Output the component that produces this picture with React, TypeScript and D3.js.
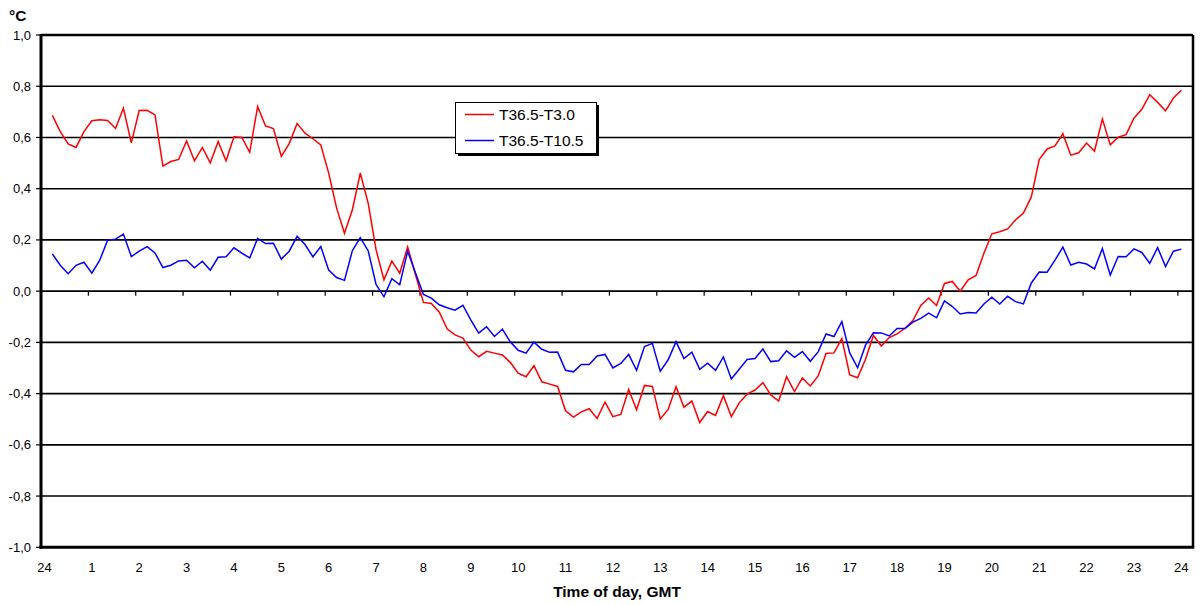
import React from 'react';
import * as d3 from 'd3';

const hourLabels = ['24','1','2','3','4','5','6','7','8','9','10','11','12','13','14','15','16','17','18','19','20','21','22','23','24'];
const yTickValues = [-1, -0.8, -0.6, -0.4, -0.2, 0, 0.2, 0.4, 0.6, 0.8, 1];
const seriesNames = ['T36.5-T3.0', 'T36.5-T10.5'];
const seriesColors = ['#ff0000', '#0000ff'];

// 10-minute samples (hours of day, GMT)
const firstSampleHour = 0.24;
const sampleStepHours = 1 / 6;

const redValues = [
  0.686, 0.623, 0.575, 0.561, 0.623, 0.665, 0.669, 0.666, 0.635, 0.714,
  0.579, 0.705, 0.706, 0.688, 0.488, 0.506, 0.514, 0.586, 0.509, 0.561,
  0.501, 0.584, 0.509, 0.603, 0.600, 0.542, 0.721, 0.645, 0.635, 0.526,
  0.576, 0.655, 0.617, 0.595, 0.571, 0.461, 0.325, 0.226, 0.318, 0.461,
  0.344, 0.162, 0.044, 0.117, 0.070, 0.173, 0.064, -0.044, -0.048, -0.081,
  -0.147, -0.171, -0.183, -0.230, -0.256, -0.235, -0.242, -0.249, -0.278, -0.320,
  -0.334, -0.291, -0.354, -0.363, -0.372, -0.467, -0.492, -0.471, -0.459, -0.497,
  -0.433, -0.490, -0.481, -0.384, -0.463, -0.368, -0.372, -0.499, -0.462, -0.373,
  -0.453, -0.429, -0.513, -0.470, -0.485, -0.408, -0.490, -0.436, -0.402, -0.386,
  -0.357, -0.405, -0.429, -0.334, -0.392, -0.339, -0.370, -0.331, -0.243, -0.241,
  -0.185, -0.327, -0.338, -0.266, -0.173, -0.214, -0.181, -0.167, -0.145, -0.115,
  -0.056, -0.027, -0.056, 0.030, 0.038, 0.000, 0.044, 0.061, 0.148, 0.224,
  0.232, 0.243, 0.278, 0.305, 0.368, 0.514, 0.555, 0.567, 0.615, 0.531,
  0.540, 0.578, 0.546, 0.672, 0.571, 0.601, 0.611, 0.675, 0.710, 0.767,
  0.737, 0.704, 0.754, 0.784,
];

const blueValues = [
  0.145, 0.101, 0.068, 0.101, 0.113, 0.070, 0.121, 0.199, 0.203, 0.223,
  0.135, 0.156, 0.174, 0.149, 0.092, 0.101, 0.118, 0.121, 0.091, 0.117,
  0.082, 0.132, 0.134, 0.169, 0.148, 0.130, 0.206, 0.186, 0.187, 0.125,
  0.156, 0.214, 0.182, 0.134, 0.174, 0.082, 0.053, 0.042, 0.158, 0.209,
  0.158, 0.026, -0.022, 0.049, 0.025, 0.156, 0.071, -0.013, -0.027, -0.053,
  -0.065, -0.074, -0.055, -0.112, -0.164, -0.139, -0.177, -0.148, -0.198, -0.231,
  -0.242, -0.199, -0.227, -0.239, -0.238, -0.309, -0.315, -0.286, -0.286, -0.253,
  -0.247, -0.300, -0.282, -0.247, -0.309, -0.216, -0.204, -0.313, -0.268, -0.197,
  -0.263, -0.238, -0.305, -0.281, -0.309, -0.257, -0.343, -0.305, -0.267, -0.263,
  -0.226, -0.275, -0.272, -0.233, -0.258, -0.236, -0.274, -0.237, -0.167, -0.177,
  -0.119, -0.241, -0.299, -0.211, -0.162, -0.163, -0.175, -0.146, -0.146, -0.121,
  -0.106, -0.086, -0.104, -0.038, -0.060, -0.089, -0.083, -0.085, -0.050, -0.024,
  -0.050, -0.020, -0.041, -0.050, 0.032, 0.075, 0.074, 0.121, 0.172, 0.102,
  0.113, 0.106, 0.087, 0.166, 0.063, 0.135, 0.134, 0.165, 0.151, 0.109,
  0.170, 0.096, 0.156, 0.164,
];

const seriesValues = [redValues, blueValues];

const W = 1201;
const H = 605;
const FONT = 'Arial, "Liberation Sans", Helvetica, sans-serif';

function fmt(v: number) {
  const s = Math.abs(v).toFixed(1).replace('.', ',');
  return (v < -1e-9 ? '-' : '') + s;
}

export default function App() {
  const left = 41, right = 1193, top = 35, bottom = 547.3;
  const x = d3.scaleLinear().domain([0, 24.32]).range([left, right]);
  const y = d3.scaleLinear().domain([-1, 1]).range([bottom, top]);

  const line = d3
    .line<number>()
    .x((_, i) => x(firstSampleHour + i * sampleStepHours))
    .y((d) => y(d));

  const y0 = y(0);

  return (
    <svg
      width={W}
      height={H}
      style={{ position: 'absolute', left: 0, top: 0, display: 'block', background: '#fff' }}
      fontFamily={FONT}
    >
      <rect x={0} y={0} width={W} height={H} fill="#fff" />
      {yTickValues.map((v) => (
        <line key={'g' + v} x1={left} x2={right} y1={y(v)} y2={y(v)} stroke="#000" strokeWidth={1.6} />
      ))}
      {yTickValues.map((v) => (
        <line key={'yt' + v} x1={left - 5} x2={left} y1={y(v)} y2={y(v)} stroke="#000" strokeWidth={1.2} />
      ))}
      {yTickValues.map((v) => (
        <text key={'yl' + v} x={31} y={y(v) + 4.5} textAnchor="end" fontSize={13} fill="#000">
          {fmt(v)}
        </text>
      ))}
      {hourLabels.map((_, k) => (
        <line key={'xt' + k} x1={x(k)} x2={x(k)} y1={y0} y2={y0 + 4.5} stroke="#000" strokeWidth={1.2} />
      ))}
      {hourLabels.map((lab, k) => (
        <text key={'xl' + k} x={x(k) + 3.5} y={572} textAnchor="middle" fontSize={13} fill="#000">
          {lab}
        </text>
      ))}
      {seriesValues.map((vals, s) => (
        <path key={'s' + s} d={line(vals) || ''} fill="none" stroke={seriesColors[s]} strokeWidth={1.5} strokeLinejoin="miter" />
      ))}
      <line x1={left} x2={right} y1={top} y2={top} stroke="#000" strokeWidth={2.5} />
      <line x1={right} x2={right} y1={top} y2={bottom} stroke="#000" strokeWidth={2.5} />
      <line x1={left} x2={left} y1={top - 1} y2={bottom + 1.5} stroke="#000" strokeWidth={3} />
      <line x1={left - 1.5} x2={right + 1.2} y1={bottom} y2={bottom} stroke="#000" strokeWidth={3} />
      <rect x={458} y={105} width={141} height={51} fill="#000" />
      <rect x={455.5} y={102.5} width={141} height={51} fill="#fff" stroke="#000" strokeWidth={1} />
      {seriesNames.map((name, s) => (
        <g key={'lg' + s}>
          <line x1={465} x2={494} y1={114.5 + s * 26} y2={114.5 + s * 26} stroke={seriesColors[s]} strokeWidth={1.5} />
          <text x={499} y={120 + s * 26} fontSize={15.5} fill="#000">
            {name}
          </text>
        </g>
      ))}
      <text x={9} y={21} fontSize={15.5} fontWeight="bold" fill="#000">°C</text>
      <text x={(left + right) / 2} y={597} textAnchor="middle" fontSize={15.5} fontWeight="bold" fill="#000">
        Time of day, GMT
      </text>
    </svg>
  );
}
